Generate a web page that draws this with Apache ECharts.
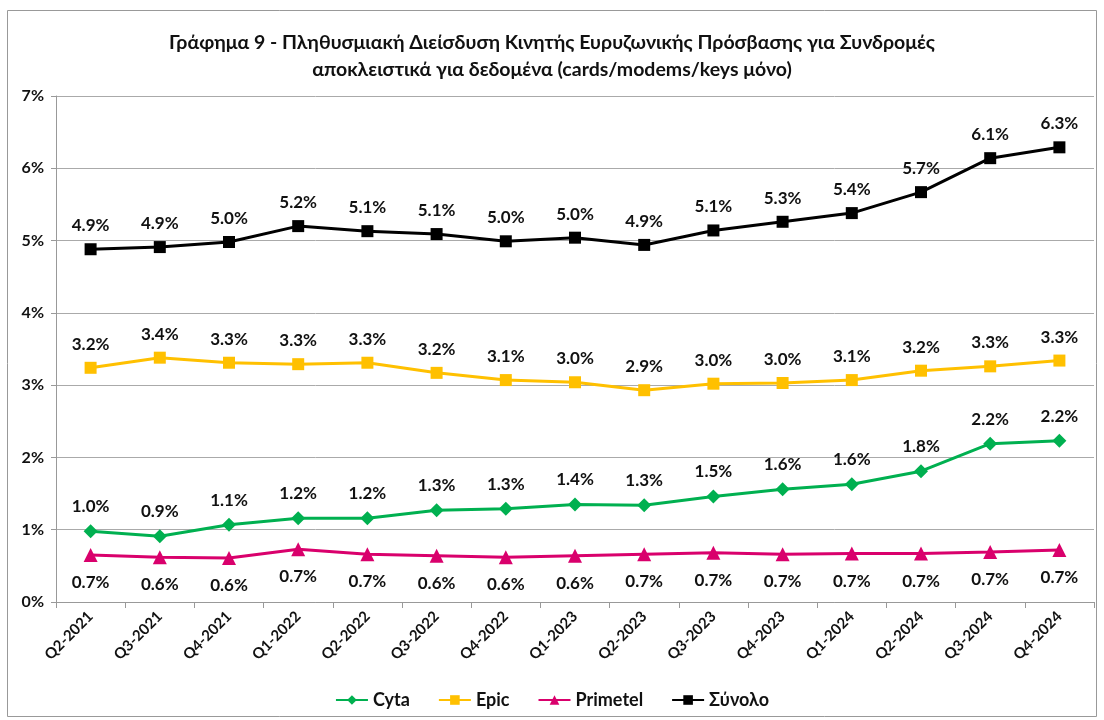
<!DOCTYPE html>
<html>
<head>
<meta charset="utf-8">
<script src="https://cdn.jsdelivr.net/npm/echarts@6/dist/echarts.min.js"></script>
<style>
  html, body { margin: 0; padding: 0; background: #fff; }
  #chart { width: 1104px; height: 720px; }
</style>
</head>
<body>
<div id="chart"></div>
<script>
const quarters = ['Q2-2021', 'Q3-2021', 'Q4-2021', 'Q1-2022', 'Q2-2022', 'Q3-2022', 'Q4-2022',
  'Q1-2023', 'Q2-2023', 'Q3-2023', 'Q4-2023', 'Q1-2024', 'Q2-2024', 'Q3-2024', 'Q4-2024']
const cyta = [0.98, 0.91, 1.07, 1.16, 1.16, 1.27, 1.29, 1.35, 1.34, 1.46, 1.56, 1.63, 1.81, 2.19, 2.23]
const epic = [3.24, 3.38, 3.31, 3.29, 3.31, 3.17, 3.07, 3.04, 2.93, 3.02, 3.03, 3.07, 3.20, 3.26, 3.34]
const primetel = [0.65, 0.62, 0.61, 0.73, 0.66, 0.64, 0.62, 0.64, 0.66, 0.68, 0.66, 0.67, 0.67, 0.69, 0.72]
const total = [4.88, 4.91, 4.98, 5.20, 5.13, 5.09, 4.99, 5.04, 4.94, 5.14, 5.26, 5.38, 5.67, 6.14, 6.29]

const font = 'Lato, "Open Sans", sans-serif'

function makeSeries(name, data, color, symbol, size, labelPos, dist) {
  return {
    name: name,
    type: 'line',
    data: data,
    symbol: symbol,
    symbolSize: size,
    lineStyle: { color: color, width: 3 },
    itemStyle: { color: color },
    label: {
      show: true,
      position: labelPos,
      distance: dist,
      formatter: p => p.value.toFixed(1) + '%',
      fontFamily: font,
      fontWeight: 'bold',
      fontSize: 17,
      color: '#111'
    }
  }
}

let chart = echarts.init(document.getElementById('chart'))
chart.setOption({
  animation: false,
  textStyle: { fontFamily: font },
  graphic: [{
    type: 'rect',
    shape: { x: 7.5, y: 10.5, width: 1089, height: 706 },
    style: { fill: 'none', stroke: '#999', lineWidth: 1 }
  }],
  title: {
    text: 'Γράφημα 9 - Πληθυσμιακή Διείσδυση Κινητής Ευρυζωνικής Πρόσβασης για Συνδρομές\nαποκλειστικά για δεδομένα (cards/modems/keys μόνο)',
    left: 'center',
    top: 24,
    textStyle: { fontFamily: font, fontWeight: 'bold', fontSize: 19.5, lineHeight: 27, color: '#111' }
  },
  legend: {
    bottom: 6,
    left: 'center',
    itemWidth: 32,
    itemHeight: 12,
    itemGap: 28,
    textStyle: { fontFamily: font, fontWeight: 'bold', fontSize: 18, color: '#111' },
    data: ['Cyta', 'Epic', 'Primetel', 'Σύνολο']
  },
  grid: { left: 56, right: 10, top: 96, bottom: 118 },
  xAxis: {
    type: 'category',
    data: quarters,
    boundaryGap: true,
    axisLine: { lineStyle: { color: '#999' } },
    axisTick: { show: true, length: 6, lineStyle: { color: '#999' } },
    axisLabel: {
      rotate: 45,
      interval: 0,
      margin: 12,
      fontFamily: font,
      fontWeight: 'bold',
      fontSize: 15,
      color: '#111'
    }
  },
  yAxis: {
    type: 'value',
    min: 0,
    max: 7,
    interval: 1,
    axisLine: { show: true, lineStyle: { color: '#999' } },
    axisTick: { show: true, length: 5, lineStyle: { color: '#999' } },
    splitLine: { lineStyle: { color: '#aaa', width: 1 } },
    axisLabel: {
      formatter: v => v + '%',
      margin: 12,
      fontFamily: font,
      fontWeight: 'bold',
      fontSize: 16,
      color: '#111'
    }
  },
  series: [
    makeSeries('Cyta', cyta, '#00B050', 'diamond', 14, 'top', 9),
    makeSeries('Epic', epic, '#FFC000', 'rect', 12, 'top', 9),
    makeSeries('Primetel', primetel, '#D9006C', 'triangle', 14, 'bottom', 12),
    makeSeries('Σύνολο', total, '#000000', 'rect', 12, 'top', 9)
  ]
})
</script>
</body>
</html>
